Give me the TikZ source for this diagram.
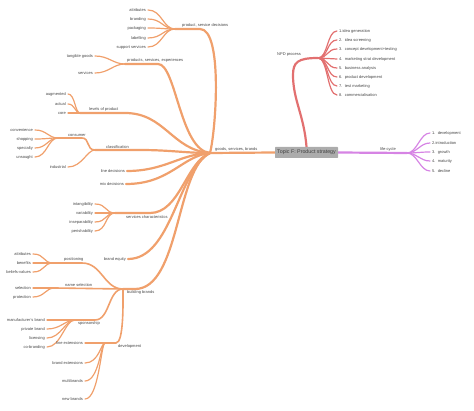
\documentclass[tikz,border=0pt]{standalone}
\usepackage{fontspec}
\setmainfont{Liberation Sans}
\definecolor{org}{RGB}{240,160,108}
\definecolor{npd}{RGB}{226,112,112}
\definecolor{lcv}{RGB}{214,132,228}
\definecolor{txt}{RGB}{70,70,70}
\definecolor{boxg}{RGB}{172,172,172}
\pgfdeclarelayer{bg}
\pgfsetlayers{bg,main}
\begin{document}
\begin{tikzpicture}[x=1pt,y=-1pt,
  lbl/.style={font=\fontsize{4}{4.5}\selectfont, text=txt, inner sep=0pt},
  leaf/.style={lbl, inner xsep=2pt},
  bra/.style={line width=2.2pt, line cap=round},
  brb/.style={line width=1.6pt, line cap=round},
  brc/.style={line width=1.2pt, line cap=round},
]
\useasboundingbox (0,0) rectangle (474,411);

% ---------- central topic ----------
\node[fill=boxg, rounded corners=0.6pt, font=\fontsize{5.3}{6}\selectfont, text=black!75,
      minimum width=63pt, minimum height=11pt, inner sep=1pt] (topic) at (306.5,152.5) {Topic F: Product strategy};

% ---------- orange: goods, services, brands ----------
\coordinate (H) at (210,153);
\node[lbl, anchor=south west] (goods) at (215,151.5) {goods, services, brands};
\begin{pgfonlayer}{bg}
\draw[bra, org] (topic.west) -- (H);
\end{pgfonlayer}

% product, service decisions
\coordinate (A) at (175,29);
\node[lbl, anchor=south west] (Al) at (182,27.5) {product, service decisions};
\draw[bra, org] (A) -- (200,29) .. controls (223,29) and (216,130) .. (H);
\foreach \t/\y [count=\i] in {attributes/10, branding/19, packaging/28, labelling/38, support services/47}{
  \node[leaf, anchor=east] (a\i) at (148,\y) {\t};
  \draw[brc, org] (a\i.east) .. controls +(14,0) and +(-12,0) .. (A);
}

% products, services, experiences
\coordinate (B) at (125,64);
\node[lbl, anchor=south west] (Bl) at (127,62.5) {products, services, experiences};
\draw[bra, org] (B) -- (158,64) .. controls (176,64) and (180,150) .. (H);
\foreach \t/\y [count=\i] in {tangible goods/56, services/73}{
  \node[leaf, anchor=east] (b\i) at (95,\y) {\t};
  \draw[brc, org] (b\i.east) .. controls +(14,0) and +(-12,0) .. (B);
}

% levels of product
\coordinate (C) at (80,113);
\node[lbl, anchor=south west] (Cl) at (89,111.5) {levels of product};
\draw[bra, org] (C) -- (125,113) .. controls (165,113) and (172,150) .. (H);
\foreach \t/\y [count=\i] in {augmented/94, actual/104, core/113}{
  \node[leaf, anchor=east] (c\i) at (68,\y) {\t};
  \draw[brc, org] (c\i.east) .. controls +(7,0) and +(-5,0) .. (C);
}

% classification
\coordinate (D) at (95,150);
\node[lbl, anchor=south west] (Dl) at (106,148.5) {classification};
\draw[bra, org] (D) -- (140,150) .. controls (170,150) and (185,153) .. (H);
\coordinate (E) at (58,138);
\node[lbl, anchor=south west] (El) at (68,136.5) {consumer};
\draw[brb, org] (E) -- (82,138) .. controls (90,138) and (86,150) .. (D);
\foreach \t/\y [count=\i] in {convenience/130, shopping/139, specialty/148, unsought/157}{
  \node[leaf, anchor=east] (e\i) at (35,\y) {\t};
  \draw[brc, org] (e\i.east) .. controls +(12,0) and +(-10,0) .. (E);
}
\node[leaf, anchor=east] (ind) at (68,167) {industrial};
\draw[brc, org] (ind.east) .. controls +(14,0) and +(-8,0) .. (D);

% line / mix decisions
\node[leaf, anchor=east] (ld) at (127,171) {line decisions};
\draw[bra, org] (ld.east) .. controls (165,171) and (180,154) .. (H);
\node[leaf, anchor=east] (md) at (126,184) {mix decisions};
\draw[bra, org] (md.east) .. controls (170,184) and (182,156) .. (H);

% services characteristics
\coordinate (F) at (115,213);
\node[lbl, anchor=north west] (Fl) at (126,215.5) {services characteristics};
\draw[bra, org] (F) -- (150,213) .. controls (180,213) and (186,162) .. (H);
\foreach \t/\y [count=\i] in {intangibility/204, variability/213, inseparability/222, perishability/231}{
  \node[leaf, anchor=east] (f\i) at (95,\y) {\t};
  \draw[brc, org] (f\i.east) .. controls +(12,0) and +(-10,0) .. (F);
}

% brand equity
\node[leaf, anchor=east] (be) at (128,259) {brand equity};
\draw[bra, org] (be.east) .. controls (172,259) and (178,170) .. (H);

% building brands
\coordinate (G) at (123,289);
\node[lbl, anchor=north west] (Gl) at (127,290.5) {building brands};
\draw[bra, org] (G) -- (135,289) .. controls (180,289) and (176,168) .. (H);

\coordinate (P) at (53,263);
\node[lbl, anchor=south west] (Pl) at (64,261.5) {positioning};
\draw[brb, org] (P) -- (82,263) .. controls (102,263) and (104,289) .. (G);
\foreach \t/\y [count=\i] in {attributes/254, benefits/263, beliefs-values/272}{
  \node[leaf, anchor=east] (p\i) at (33,\y) {\t};
  \draw[brc, org] (p\i.east) .. controls +(12,0) and +(-10,0) .. (P);
}

\coordinate (N) at (55,288);
\node[lbl, anchor=south west] (Nl) at (65,286.5) {name selection};
\draw[brb, org] (N) -- (G);
\foreach \t/\y [count=\i] in {selection/288, protection/297}{
  \node[leaf, anchor=east] (n\i) at (33,\y) {\t};
  \draw[brc, org] (n\i.east) .. controls +(12,0) and +(-10,0) .. (N);
}

\coordinate (S) at (75,320);
\node[lbl, anchor=north west] (Sl) at (78,321.5) {sponsorship};
\draw[brb, org] (S) -- (95,320) .. controls (110,320) and (108,289) .. (G);
\foreach \t/\y [count=\i] in {manufacturer's brand/320, private brand/329, licensing/338, co-branding/347}{
  \node[leaf, anchor=east] (s\i) at (47,\y) {\t};
  \draw[brc, org] (s\i.east) .. controls +(14,0) and +(-10,0) .. (S);
}

\coordinate (Dv) at (105,343);
\node[lbl, anchor=north west] (Dvl) at (118,344.5) {development};
\draw[brb, org] (Dv) -- (116,343) .. controls (124,343) and (123,300) .. (G);
\foreach \t/\y [count=\i] in {line extensions/343, brand extensions/363, multibrands/381, new brands/399}{
  \node[leaf, anchor=east] (d\i) at (85,\y) {\t};
  \draw[brc, org] (d\i.east) .. controls +(14,0) and +(-4,0) .. (Dv);
}

% ---------- red: NPD process ----------
\coordinate (Np) at (318,58);
\node[lbl, anchor=south west] (Npl) at (277,56.5) {NPD process};
\begin{pgfonlayer}{bg}
\draw[bra, npd] (topic.north) .. controls (304,115) and (293,100) .. (293,75)
      .. controls (293,62) and (298,58) .. (Np);
\end{pgfonlayer}
\foreach \t/\y [count=\i] in {{1.idea generation}/31, {2.\ \ idea screening}/40,
   {3.\ \ concept development+testing}/49, {4.\ \ marketing strat development}/59,
   {5.\ \ business analysis}/68, {6.\ \ product development}/77,
   {7.\ \ test marketing}/86, {8.\ \ commercialisation}/95}{
  \node[leaf, anchor=west] (np\i) at (337,\y) {\t};
  \draw[brc, npd] (Np) .. controls +(10,0) and +(-10,0) .. (np\i.west);
}

% ---------- violet: life-cycle ----------
\coordinate (Lc) at (407,153);
\node[lbl, anchor=south west] (Lcl) at (380,151.5) {life-cycle};
\begin{pgfonlayer}{bg}
\draw[bra, lcv] (topic.east) -- (Lc);
\end{pgfonlayer}
\foreach \t/\y [count=\i] in {{1.\ \ development}/133, {2.introduction}/143,
   {3.\ \ growth}/152, {4.\ \ maturity}/161, {5.\ \ decline}/171}{
  \node[leaf, anchor=west] (lc\i) at (430,\y) {\t};
  \draw[brc, lcv] (Lc) .. controls +(10,0) and +(-10,0) .. (lc\i.west);
}
\end{tikzpicture}
\end{document}
